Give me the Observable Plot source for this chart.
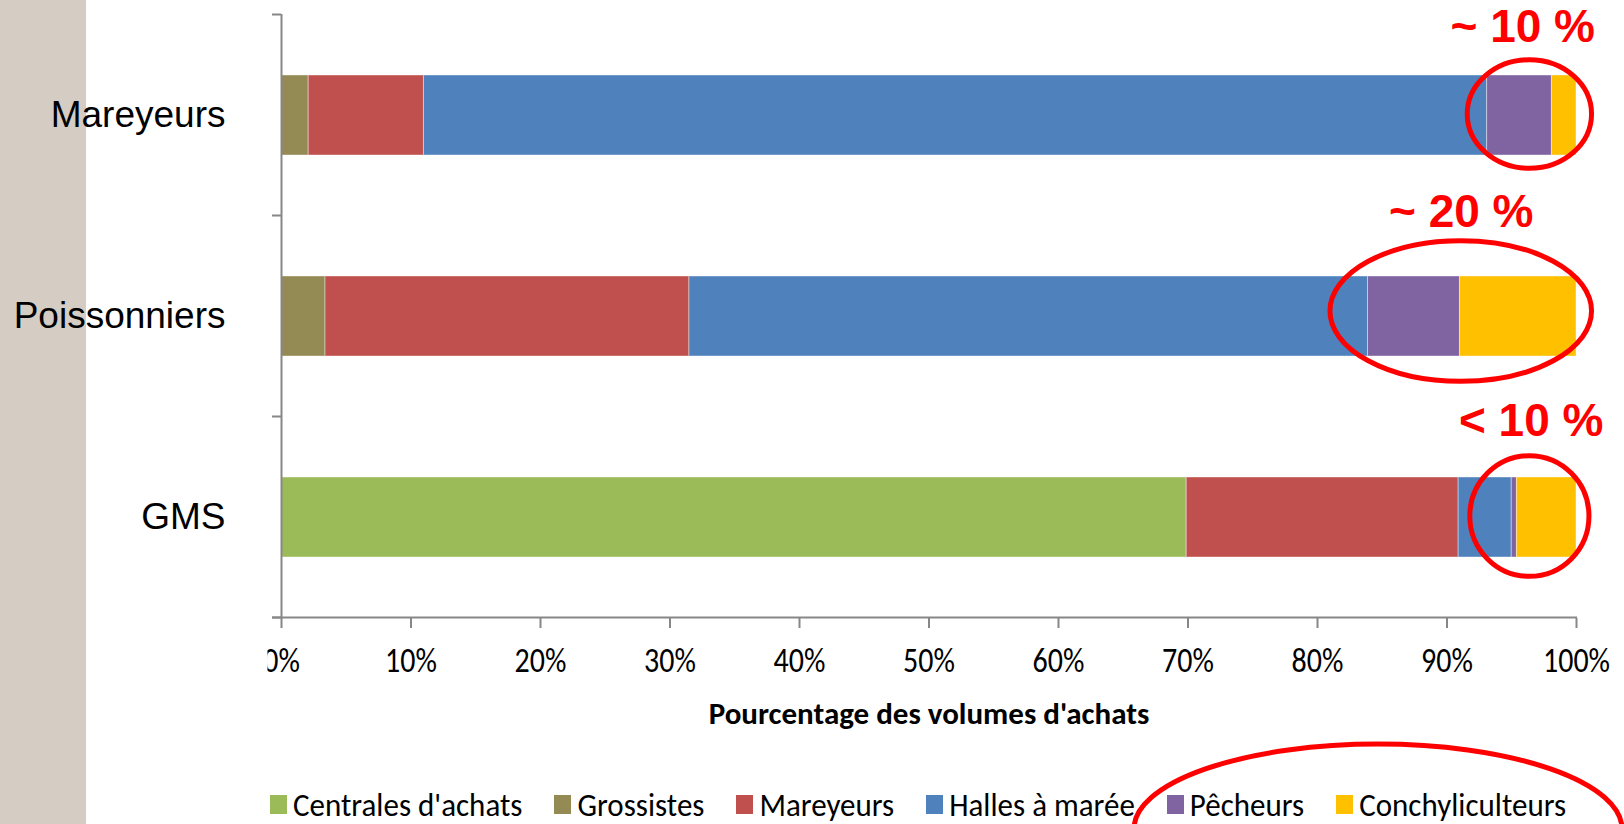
<!DOCTYPE html>
<html>
<head>
<meta charset="utf-8">
<script src="https://cdn.jsdelivr.net/npm/d3@7"></script>
<script src="https://cdn.jsdelivr.net/npm/@observablehq/plot@0.6"></script>
<style>
  html, body { margin: 0; padding: 0; background: #fff; }
  #wrap { position: relative; width: 1624px; height: 824px; overflow: hidden; background: #fff; }
  #strip { position: absolute; left: 0; top: 0; width: 86px; height: 824px; background: #d5ccc3; }
  #chart { position: absolute; left: 0; top: 0; }
  #legend { position: absolute; left: 270px; top: 784px; height: 40px; display: flex; align-items: center; gap: 32px;
            font-family: Carlito, Lato, 'Open Sans', sans-serif; font-size: 31px; color: #000; white-space: nowrap; }
  .item { display: flex; align-items: center; }
  .sw { width: 17px; height: 19px; margin-right: 6px; flex: none; }
  .item span { display: inline-block; transform: scaleY(1.07); }
  #overlay { position: absolute; left: 0; top: 0; pointer-events: none; }
</style>
</head>
<body>
<div id="wrap">
  <div id="strip"></div>
  <div id="chart"></div>
  <div id="legend"></div>
  <svg id="overlay" width="1624" height="824"></svg>
</div>
<script>
// ---- data ----
const categories = ["Mareyeurs", "Poissonniers", "GMS"];
const series = ["Centrales d'achats", "Grossistes", "Mareyeurs", "Halles à marée", "Pêcheurs", "Conchyliculteurs"];
const colors = ["#9bbb59", "#948a54", "#c0504d", "#4f81bd", "#8064a2", "#ffc000"];
// share of purchase volumes (%) per category, in series order
const valuesMareyeurs    = [0,    2.1, 8.9,  82.1, 5.0, 1.9];
const valuesPoissonniers = [0,    3.4, 28.1, 52.4, 7.1, 9.0];
const valuesGMS          = [69.9, 0,   21.0, 4.1,  0.4, 4.6];
const xTicks = [0, 10, 20, 30, 40, 50, 60, 70, 80, 90, 100];
const xTitle = "Pourcentage des volumes d'achats";
// annotations
const annotLabels = ["~ 10 %", "~ 20 %", "< 10 %"];
const annotCenterX = [96.4, 91.1, 96.4];
const annotRadiusX = [4.8, 10.1, 4.6];

const valuesByCat = [valuesMareyeurs, valuesPoissonniers, valuesGMS];
const rows = [];
categories.forEach((c, i) => series.forEach((s, j) => {
  const v = valuesByCat[i][j];
  if (v > 0) rows.push({cat: c, series: s, value: v});
}));

const calibri = "Carlito, Lato, 'Open Sans', sans-serif";
const arial = "'Liberation Sans', Arial, sans-serif";
const gray = "#878787";
const W = 1624, H = 770;

const annotLabelDy = [-88, -104, -96];
const annotLabelShift = [-0.55, 0, 0.1];

const chart = Plot.plot({
  width: W, height: H,
  marginLeft: 281, marginRight: 48, marginTop: 14, marginBottom: H - 618,
  style: {background: "transparent", overflow: "visible"},
  x: {domain: [0, 100]},
  y: {domain: categories, paddingInner: 0.6, paddingOuter: 0.3},
  color: {domain: series, range: colors},
  marks: [
    Plot.barX(rows, Plot.stackX({x: "value", y: "cat", fill: "series", order: series,
      stroke: "white", strokeOpacity: 0.4, strokeWidth: 1})),
    Plot.ruleX([0], {stroke: gray, strokeWidth: 2}),
    Plot.axisY({tickSize: 0, tickPadding: 56, fontSize: 37, fontFamily: arial, fill: "#000", label: null}),
    Plot.axisX({ticks: xTicks, tickSize: 10, tickPadding: 21, stroke: gray, strokeWidth: 2, fill: "#000",
      fontSize: 30, fontFamily: calibri, tickFormat: d => d + "%", label: null}),
    Plot.text([xTitle], {frameAnchor: "bottom", dy: 105, fontWeight: "bold", fontSize: 31, fontFamily: calibri, fill: "#000"}),
    ...annotLabels.map((t, i) => Plot.text([t], {
      x: annotCenterX[i] + annotLabelShift[i], y: [categories[i]], text: d => d, dy: annotLabelDy[i],
      fill: "#ff0000", fontWeight: "bold", fontSize: 46, fontFamily: arial, lineAnchor: "middle"
    }))
  ]
});
document.getElementById("chart").appendChild(chart);

// ---- axis line, category boundary ticks, annotation ellipses (through the scales) ----
const svg = d3.select(chart);
const xs = chart.scale("x"), ys = chart.scale("y");
const x0 = xs.apply(0), x100 = xs.apply(100);
const gap = ys.step - ys.bandwidth;
const bounds = categories.map(c => ys.apply(c) - gap / 2);
bounds.push(ys.apply(categories[categories.length - 1]) + ys.bandwidth + gap / 2);
const yBottom = bounds[bounds.length - 1];
const ga = svg.append("g").attr("stroke", gray).attr("stroke-width", 2);
ga.append("line").attr("x1", x0 - 9).attr("x2", x100 + 1).attr("y1", yBottom).attr("y2", yBottom);
bounds.forEach(y => ga.append("line").attr("x1", x0 - 9).attr("x2", x0).attr("y1", y).attr("y2", y));

const annotRadiusY = [0.27, 0.35, 0.30];
const annotDyCenter = [-1, -5, -1];
const ge = svg.append("g").attr("fill", "none").attr("stroke", "#ff0000").attr("stroke-width", 5);
annotLabels.forEach((t, i) => {
  const cx = xs.apply(annotCenterX[i]);
  const cy = ys.apply(categories[i]) + ys.bandwidth / 2 + annotDyCenter[i];
  ge.append("ellipse").attr("cx", cx).attr("cy", cy)
    .attr("rx", xs.apply(annotCenterX[i] + annotRadiusX[i]) - cx)
    .attr("ry", ys.step * annotRadiusY[i]);
});

// x tick labels: slightly tall, like the stretched original
svg.selectAll("g[aria-label='x-axis tick label'] text").each(function () {
  const b = this.getBBox();
  const cy = b.y + b.height / 2;
  const t = this.getAttribute("transform") || "";
  this.setAttribute("transform", `${t} translate(0,${cy}) scale(1,1.15) translate(0,${-cy})`);
});

// clip the 0% label like the cropped original
const defs = svg.append("defs");
defs.append("clipPath").attr("id", "clipzero").append("rect")
  .attr("x", 267).attr("y", 0).attr("width", W).attr("height", H);
svg.selectAll("g[aria-label='x-axis tick label']").attr("clip-path", "url(#clipzero)");

// ---- legend ----
const legend = d3.select("#legend");
series.forEach((s, i) => {
  const it = legend.append("div").attr("class", "item");
  it.append("div").attr("class", "sw").style("background", colors[i]);
  it.append("span").text(s);
});

// legend highlight ellipse
d3.select("#overlay").append("ellipse")
  .attr("cx", 1378).attr("cy", 829).attr("rx", 244).attr("ry", 85)
  .attr("fill", "none").attr("stroke", "#ff0000").attr("stroke-width", 5);
</script>
</body>
</html>
